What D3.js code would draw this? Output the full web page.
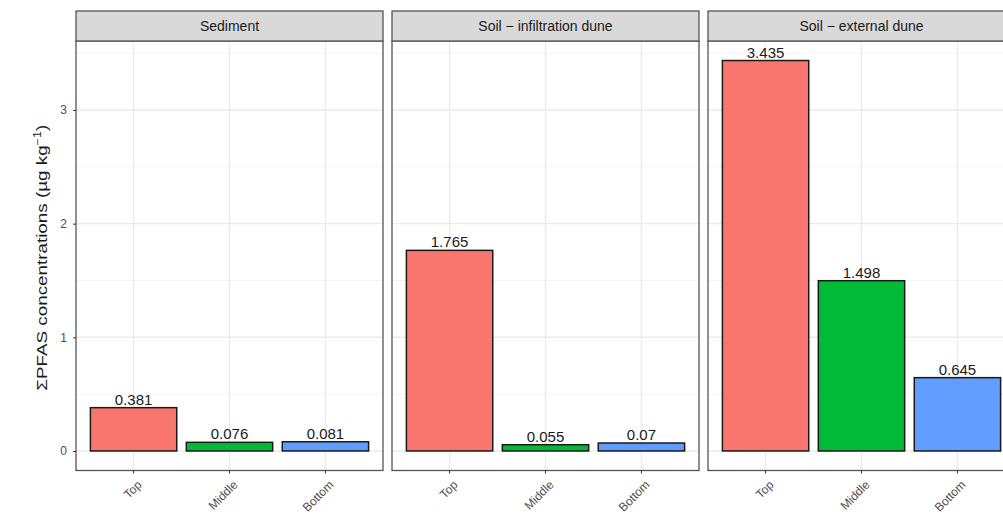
<!DOCTYPE html>
<html>
<head>
<meta charset="utf-8">
<script src="https://cdn.jsdelivr.net/npm/d3@7"></script>
<style>
  html, body { margin: 0; padding: 0; background: #fff; }
  svg { display: block; font-family: "Liberation Sans", Arial, sans-serif; }
</style>
</head>
<body>
<svg id="chart" width="1003" height="517"></svg>
<script>
// Sampling sites (facets) and depth layers
const facets = ["Sediment", "Soil \u2212 infiltration dune", "Soil \u2212 external dune"];
const depths = ["Top", "Middle", "Bottom"];

// ΣPFAS concentrations (µg kg-1) per depth layer, one array per site
const sediment = [0.381, 0.076, 0.081];
const infiltrationDune = [1.765, 0.055, 0.07];
const externalDune = [3.435, 1.498, 0.645];

const yTicks = [0, 1, 2, 3];
const depthColors = ["#F8766D", "#00BA38", "#619CFF"];

const seriesBySite = [sediment, infiltrationDune, externalDune];

const svg = d3.select("#chart");

// Panel geometry
const panelLeft = 76, panelW = 307, panelGap = 9;
const stripTop = 11, stripH = 30;
const panelTop = stripTop + stripH, panelBottom = 470.5;

const yMax = d3.max(seriesBySite.flat());
const pad = yMax * 0.05;
const y = d3.scaleLinear().domain([-pad, yMax + pad]).range([panelBottom, panelTop]);
const color = d3.scaleOrdinal().domain(depths).range(depthColors);

const minorTicks = d3.range(0.5, yMax + pad, 1);

facets.forEach((name, i) => {
  const x0 = panelLeft + i * (panelW + panelGap);
  const x = d3.scaleBand().domain(depths).range([x0, x0 + panelW])
    .paddingInner(0.1).paddingOuter(0.15);
  const g = svg.append("g");

  // panel background
  g.append("rect").attr("x", x0).attr("y", panelTop)
    .attr("width", panelW).attr("height", panelBottom - panelTop)
    .attr("fill", "#fff");

  // grid lines
  g.selectAll(".minor").data(minorTicks).join("line")
    .attr("x1", x0).attr("x2", x0 + panelW)
    .attr("y1", d => y(d)).attr("y2", d => y(d))
    .attr("stroke", "#F3F3F3").attr("stroke-width", 1);
  g.selectAll(".major").data(yTicks).join("line")
    .attr("x1", x0).attr("x2", x0 + panelW)
    .attr("y1", d => y(d)).attr("y2", d => y(d))
    .attr("stroke", "#EBEBEB").attr("stroke-width", 1.4);
  g.selectAll(".vgrid").data(depths).join("line")
    .attr("x1", d => x(d) + x.bandwidth() / 2).attr("x2", d => x(d) + x.bandwidth() / 2)
    .attr("y1", panelTop).attr("y2", panelBottom)
    .attr("stroke", "#EBEBEB").attr("stroke-width", 1.4);

  const vals = seriesBySite[i];
  const data = depths.map((d, j) => ({ depth: d, value: vals[j] }));

  // bars
  g.selectAll(".bar").data(data).join("rect")
    .attr("x", d => x(d.depth))
    .attr("y", d => y(d.value))
    .attr("width", x.bandwidth())
    .attr("height", d => y(0) - y(d.value))
    .attr("fill", d => color(d.depth))
    .attr("stroke", "#1a1a1a").attr("stroke-width", 1.5);

  // value labels
  g.selectAll(".val").data(data).join("text")
    .attr("x", d => x(d.depth) + x.bandwidth() / 2)
    .attr("y", d => y(d.value) - 3)
    .attr("text-anchor", "middle")
    .attr("font-size", 15).attr("fill", "#1a1a1a")
    .text(d => String(d.value));

  // panel border
  g.append("rect").attr("x", x0).attr("y", panelTop)
    .attr("width", panelW).attr("height", panelBottom - panelTop)
    .attr("fill", "none").attr("stroke", "#555").attr("stroke-width", 1.3);

  // strip
  g.append("rect").attr("x", x0).attr("y", stripTop)
    .attr("width", panelW).attr("height", stripH)
    .attr("fill", "#D9D9D9").attr("stroke", "#555").attr("stroke-width", 1.3);
  g.append("text").attr("x", x0 + panelW / 2).attr("y", stripTop + stripH / 2)
    .attr("dy", "0.35em").attr("text-anchor", "middle")
    .attr("font-size", 14).attr("fill", "#1a1a1a").text(name);

  // x axis
  const xAxis = g.append("g").attr("transform", `translate(0,${panelBottom})`)
    .call(d3.axisBottom(x).tickSize(3).tickPadding(4));
  xAxis.select(".domain").remove();
  xAxis.selectAll(".tick line").attr("stroke", "#333");
  xAxis.selectAll(".tick text")
    .attr("font-size", 12).attr("fill", "#4D4D4D")
    .attr("text-anchor", "end")
    .attr("transform", "translate(3,9) rotate(-45)")
    .attr("dy", "0.7em").attr("y", 0).attr("x", 0);

  if (i === 0) {
    const yAxis = g.append("g").attr("transform", `translate(${x0},0)`)
      .call(d3.axisLeft(y).tickValues(yTicks).tickSize(3).tickPadding(6).tickFormat(d3.format("d")));
    yAxis.select(".domain").remove();
    yAxis.selectAll(".tick line").attr("stroke", "#333");
    yAxis.selectAll(".tick text").attr("font-size", 12).attr("fill", "#4D4D4D");
  }
});

// y axis title, stretched along its length to span the label column
const titleLen = 266;
const title = svg.append("text")
  .attr("text-anchor", "middle").attr("font-size", 15).attr("fill", "#1a1a1a");
title.append("tspan").text("\u03A3PFAS concentrations  (\u00B5g kg");
title.append("tspan").attr("font-size", 10).attr("dy", "-0.6em").text("\u22121");
title.append("tspan").attr("dy", "0.4em").text(")");
const tw = title.node().getBBox().width;
title.attr("transform",
  `translate(47,${(panelTop + panelBottom) / 2 + 2}) rotate(-90) scale(${titleLen / tw},1)`);
</script>
</body>
</html>
